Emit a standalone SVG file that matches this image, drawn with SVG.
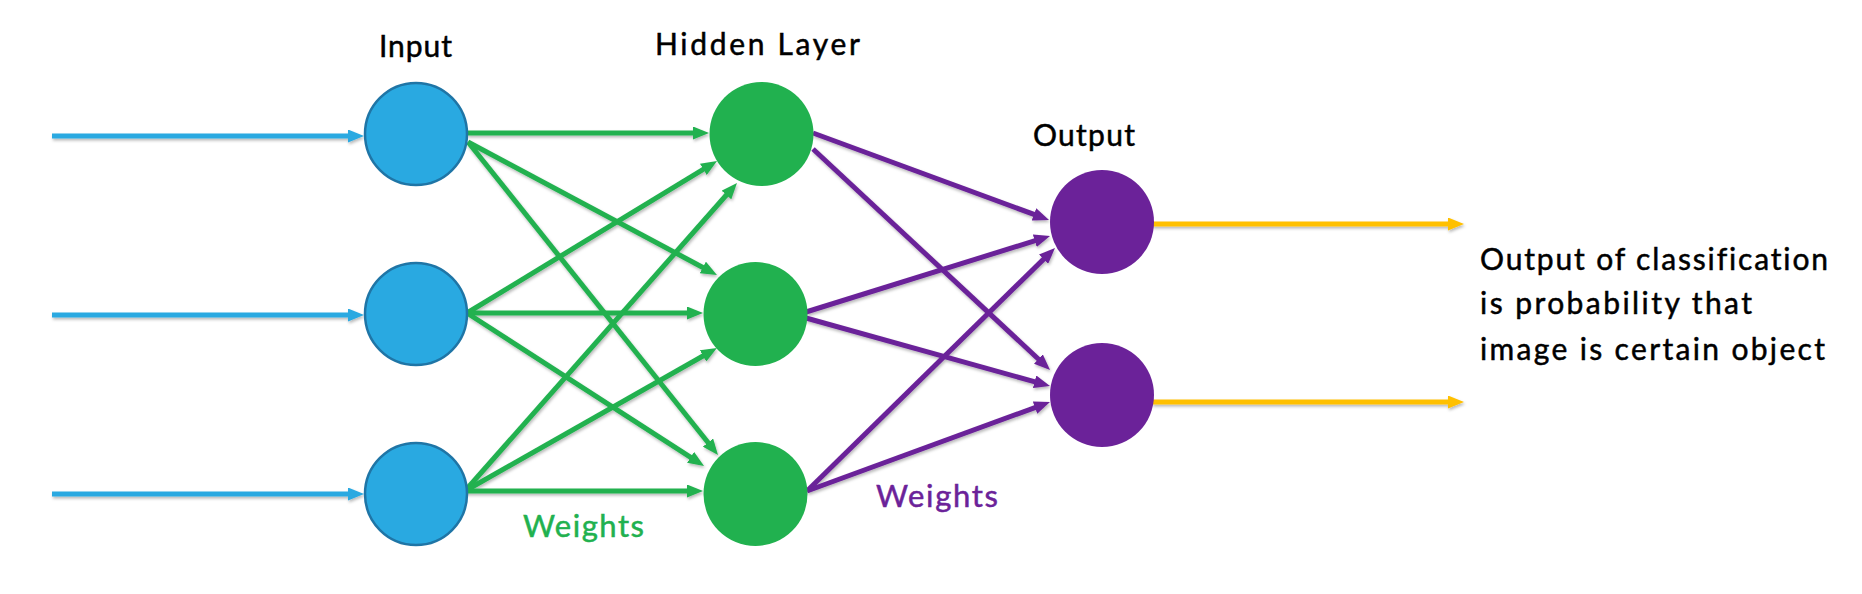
<svg xmlns="http://www.w3.org/2000/svg" width="1862" height="594" viewBox="0 0 1862 594">
  <style>
    .lbl { font-family: Lato, "Liberation Sans", sans-serif; font-size: 30px; fill: #000; stroke: #000; stroke-width: 0.5; font-variant-ligatures: none; }
    .wt { font-family: Lato, "Liberation Sans", sans-serif; font-size: 31px; stroke-width: 0.5; font-variant-ligatures: none; }
    .c { fill: none; stroke-width: 5; stroke-linecap: butt; }
    .blue { stroke: #29A9E1; marker-end: url(#aBlue); }
    .green { stroke: #21B14F; marker-end: url(#aGreen); }
    .purple { stroke: #6B2299; marker-end: url(#aPurple); }
    .yellow { stroke: #FFC000; marker-end: url(#aYellow); }
    .inp { fill: #29A9E1; stroke: #1F75A6; stroke-width: 2.5; }
    .hid { fill: #21B14F; }
    .out { fill: #6B2299; }
  </style>
  <defs>
    <filter id="sh" x="-10%" y="-10%" width="120%" height="130%">
      <feDropShadow dx="1" dy="2" stdDeviation="1.5" flood-color="#000" flood-opacity="0.28"/>
    </filter>
    <marker id="aBlue" markerUnits="userSpaceOnUse" markerWidth="16" markerHeight="13" refX="8" refY="6.5" orient="auto"><path d="M0,0 L16,6.5 L0,13 z" fill="#29A9E1"/></marker>
    <marker id="aGreen" markerUnits="userSpaceOnUse" markerWidth="16" markerHeight="13" refX="8" refY="6.5" orient="auto"><path d="M0,0 L16,6.5 L0,13 z" fill="#21B14F"/></marker>
    <marker id="aPurple" markerUnits="userSpaceOnUse" markerWidth="16" markerHeight="13" refX="8" refY="6.5" orient="auto"><path d="M0,0 L16,6.5 L0,13 z" fill="#6B2299"/></marker>
    <marker id="aYellow" markerUnits="userSpaceOnUse" markerWidth="16" markerHeight="13" refX="8" refY="6.5" orient="auto"><path d="M0,0 L16,6.5 L0,13 z" fill="#FFC000"/></marker>
  </defs>
  <rect width="1862" height="594" fill="#fff"/>

  <g id="connectors" filter="url(#sh)">
    <line class="c blue" x1="52" y1="136" x2="356" y2="136"/>
    <line class="c blue" x1="52" y1="315" x2="356" y2="315"/>
    <line class="c blue" x1="52" y1="494" x2="356" y2="494"/>

    <line class="c green" x1="467" y1="133" x2="701" y2="133"/>
    <line class="c green" x1="468" y1="142" x2="709.9" y2="271.2"/>
    <line class="c green" x1="468" y1="142" x2="713" y2="448.8"/>
    <line class="c green" x1="467" y1="313" x2="710.2" y2="165.2"/>
    <line class="c green" x1="467" y1="313" x2="695" y2="313"/>
    <line class="c green" x1="467" y1="313" x2="697.3" y2="461.7"/>
    <line class="c green" x1="465" y1="491" x2="731.7" y2="189"/>
    <line class="c green" x1="465" y1="491" x2="710" y2="352"/>
    <line class="c green" x1="465" y1="491" x2="695" y2="491"/>

    <line class="c purple" x1="813" y1="133" x2="1041.5" y2="217.2"/>
    <line class="c purple" x1="813" y1="149" x2="1044.2" y2="364.5"/>
    <line class="c purple" x1="806" y1="312" x2="1042.4" y2="238.4"/>
    <line class="c purple" x1="806" y1="318" x2="1042.3" y2="383.9"/>
    <line class="c purple" x1="807" y1="491" x2="1049.3" y2="253.6"/>
    <line class="c purple" x1="807" y1="491" x2="1042.5" y2="404.8"/>

    <line class="c yellow" x1="1152" y1="224" x2="1456" y2="224"/>
    <line class="c yellow" x1="1152" y1="402" x2="1456" y2="402"/>
  </g>

  <g id="input1"><circle class="inp" cx="416" cy="134" r="51"/></g>
  <g id="input2"><circle class="inp" cx="416" cy="314" r="51"/></g>
  <g id="input3"><circle class="inp" cx="416" cy="494" r="51"/></g>

  <g id="hidden1"><circle class="hid" cx="761.5" cy="134" r="52"/></g>
  <g id="hidden2"><circle class="hid" cx="755.5" cy="314" r="52"/></g>
  <g id="hidden3"><circle class="hid" cx="755.5" cy="494" r="52"/></g>

  <g id="output1"><circle class="out" cx="1102" cy="222" r="52"/></g>
  <g id="output2"><circle class="out" cx="1102" cy="395" r="52"/></g>

  <g id="labels">
    <text class="lbl" x="379" y="57" textLength="73">Input</text>
    <text class="lbl" x="655" y="55" textLength="205">Hidden Layer</text>
    <text class="lbl" x="1033" y="146" textLength="102">Output</text>
    <text class="wt" x="523" y="537" fill="#21B14F" stroke="#21B14F" textLength="121">Weights</text>
    <text class="wt" x="876" y="507" fill="#6B2299" stroke="#6B2299" textLength="122">Weights</text>
  </g>

  <g id="note">
    <text class="lbl" x="1480" y="270" textLength="348">Output of classification</text>
    <text class="lbl" x="1480" y="314" textLength="272">is probability that</text>
    <text class="lbl" x="1480" y="360" textLength="345">image is certain object</text>
  </g>
</svg>
